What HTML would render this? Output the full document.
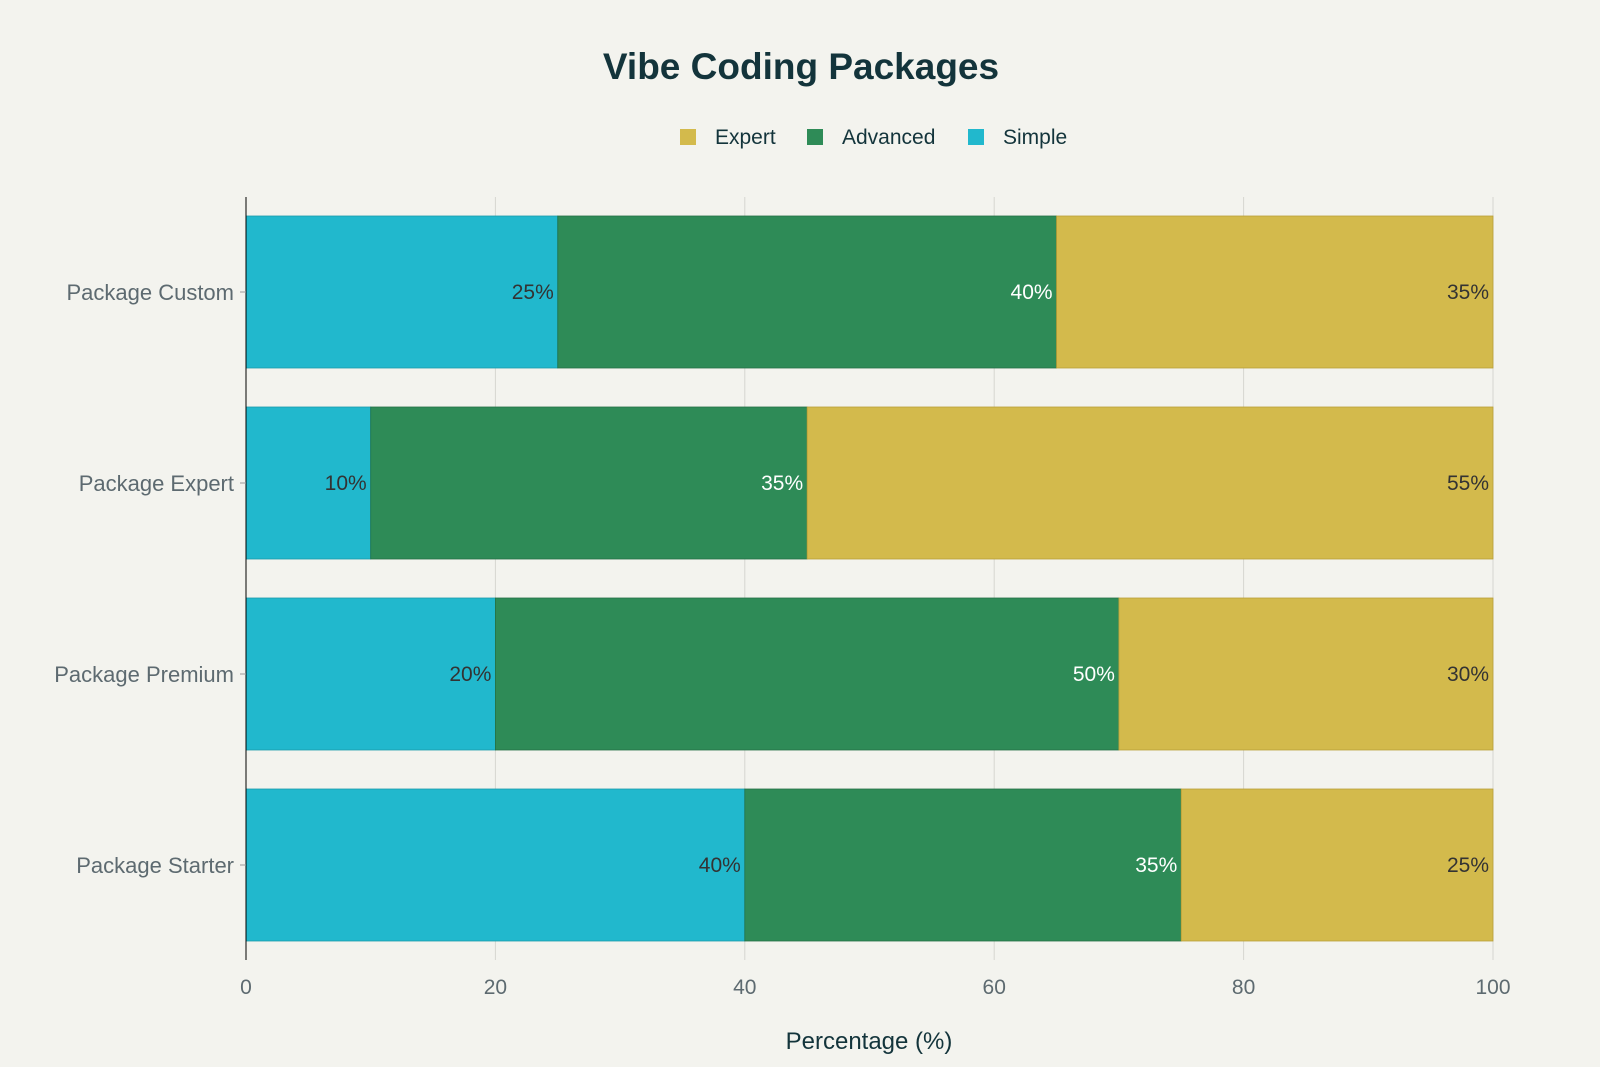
<!DOCTYPE html>
<html><head><meta charset="utf-8"><style>
body{margin:0;background:#f3f3ee;}
svg{display:block;font-family:"Liberation Sans",sans-serif;}
</style></head><body>
<svg id="chart" width="1600" height="1067">
<rect width="1600" height="1067" fill="#f3f3ee"/>
<text x="801" y="79" text-anchor="middle" font-size="37" font-weight="bold" fill="#13343b">Vibe Coding Packages</text>
<g id="legend"></g>
<g id="grid"></g><g id="bars"></g><g id="labels"></g><g id="axes"></g>
<text x="869" y="1049" text-anchor="middle" font-size="24" fill="#13343b">Percentage (%)</text>
</svg>
<script>
const categories=["Package Custom","Package Expert","Package Premium","Package Starter"];
const simple=[25,10,20,40];
const advanced=[40,35,50,35];
const expert=[35,55,30,25];
const ticks=[0,20,40,60,80,100];
const seriesNames=["Simple","Advanced","Expert"];
const NS="http://www.w3.org/2000/svg";
const colors={Simple:"#21b8cd",Advanced:"#2e8b57",Expert:"#d3ba4c"};
const strokes={Simple:"#1a9aab",Advanced:"#237045",Expert:"#b89f38"};
const x0=246,x1=1493,plotTop=197,plotBottom=960,bandTop=216,bandStep=191,barH=152;
const xs=v=>x0+(x1-x0)*v/100;
function mk(tag,attrs,parent){const e=document.createElementNS(NS,tag);for(const k in attrs)e.setAttribute(k,attrs[k]);document.getElementById(parent).appendChild(e);return e;}
ticks.forEach(t=>{
 if(t>0){const l=mk("line",{x1:xs(t),x2:xs(t),y1:plotTop,y2:plotBottom,stroke:"#d6d6d0","stroke-width":1},"grid");
 
 }
 const tx=mk("text",{x:xs(t),y:994,"text-anchor":"middle","font-size":21,fill:"#5d6a70"},"axes");tx.textContent=t;
 
 
});
const ax=mk("line",{x1:x0,x2:x0,y1:plotTop,y2:plotBottom,stroke:"#000","stroke-width":1},"axes");


categories.forEach((c,i)=>{
 const y=bandTop+i*bandStep;
 const vals={Simple:simple[i],Advanced:advanced[i],Expert:expert[i]};
 let acc=0;
 seriesNames.forEach(s=>{
  const v=vals[s];
  const r=mk("rect",{x:xs(acc),y:y,width:xs(acc+v)-xs(acc),height:barH,fill:colors[s],stroke:strokes[s],"stroke-width":0.8},"bars");
  
  
  acc+=v;
  const t=mk("text",{x:xs(acc)-4,y:y+barH/2+7,"text-anchor":"end","font-size":21,fill:s==="Advanced"?"#ffffff":"#333333"},"labels");
  t.textContent=v+"%";
  
  
 });
 const tk=mk("line",{x1:x0-6,x2:x0,y1:y+barH/2,y2:y+barH/2,stroke:"#999"},"axes");
 
 
 const lb=mk("text",{x:234,y:y+barH/2+8,"text-anchor":"end","font-size":22,fill:"#5d6a70"},"axes");
 lb.textContent=c;
 
 
});
const legendItems=[["Expert",680],["Advanced",807],["Simple",968]];
legendItems.forEach(([s,x])=>{
 const r=mk("rect",{x:x,y:129,width:16,height:16,fill:colors[s]},"legend");
 
 
 const t=mk("text",{x:x+35,y:144,"font-size":21,fill:"#13343b"},"legend");
 t.textContent=s;
 
 
});
</script>
</body></html>
